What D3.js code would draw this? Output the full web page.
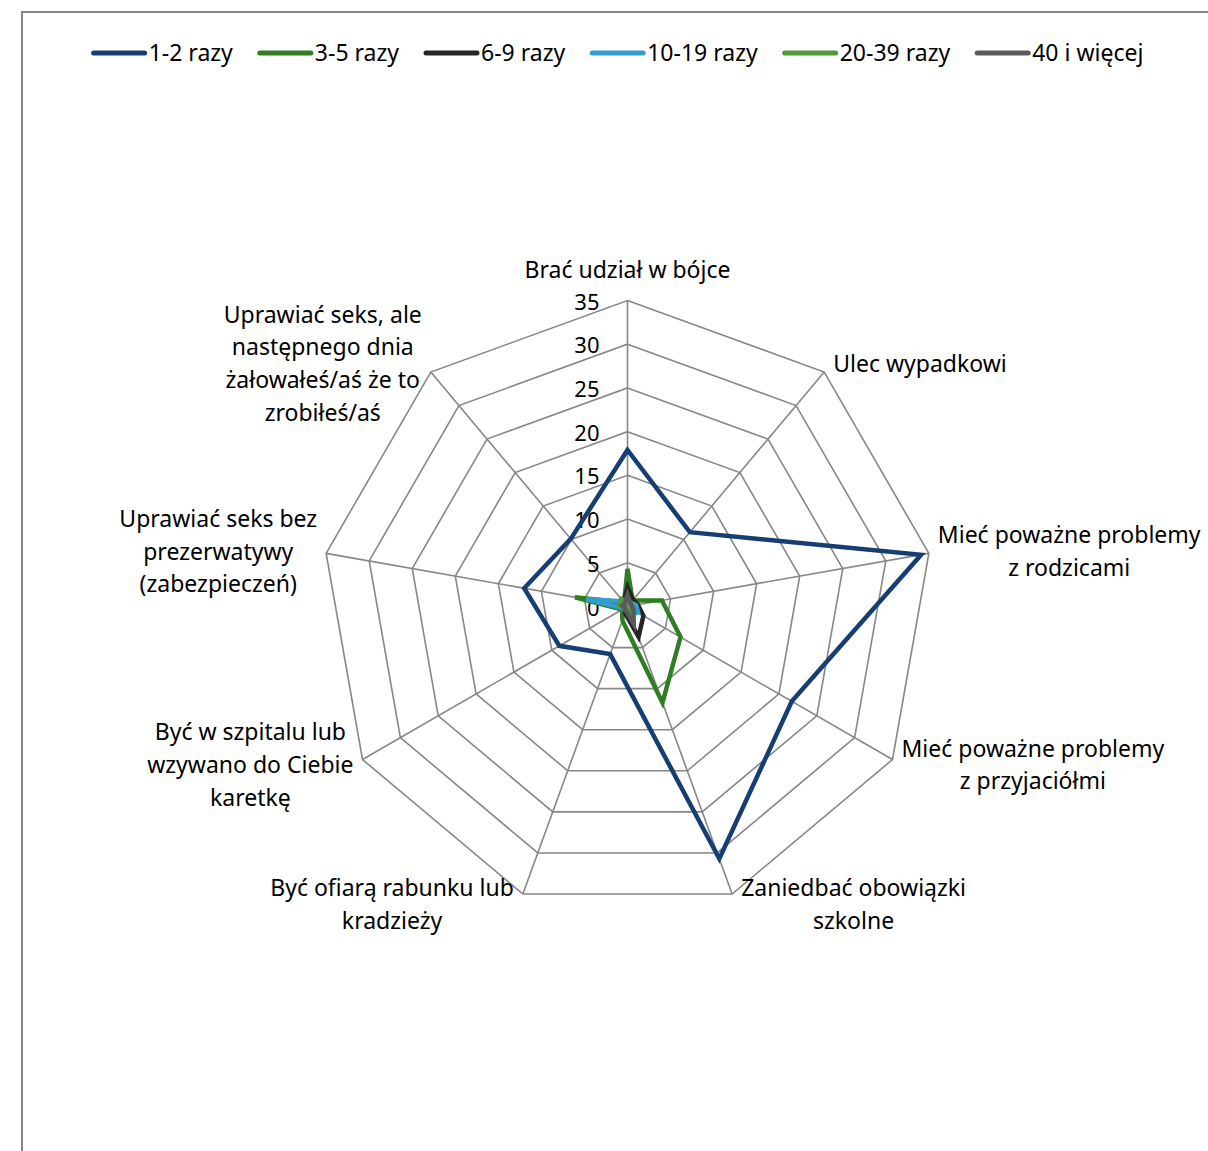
<!DOCTYPE html>
<html>
<head>
<meta charset="utf-8">
<script src="https://cdn.jsdelivr.net/npm/d3@7"></script>
<style>
  html, body { margin: 0; padding: 0; background: #fff; }
  svg { display: block; }
  text { font-family: "Noto Sans", "Open Sans", sans-serif; fill: #000; }
</style>
</head>
<body>
<svg id="chart" width="1208" height="1151"></svg>
<script>
// ---- data ----
const categories = [
  ["Brać udział w bójce"],
  ["Ulec wypadkowi"],
  ["Mieć poważne problemy", "z rodzicami"],
  ["Mieć poważne problemy", "z przyjaciółmi"],
  ["Zaniedbać obowiązki", "szkolne"],
  ["Być ofiarą rabunku lub", "kradzieży"],
  ["Być w szpitalu lub", "wzywano do Ciebie", "karetkę"],
  ["Uprawiać seks bez", "prezerwatywy", "(zabezpieczeń)"],
  ["Uprawiać seks, ale", "następnego dnia", "żałowałeś/aś że to", "zrobiłeś/aś"]
];
const seriesNames = ["1-2 razy", "3-5 razy", "6-9 razy", "10-19 razy", "20-39 razy", "40 i więcej"];
const s12   = [17.9, 11.1, 34.1, 21.7, 30.7, 5.8, 9.0, 12.0, 10.1];
const s35   = [4.3, 0.9, 4.0, 7.0, 11.7, 1.7, 0.7, 6.1, 0.6];
const s69   = [2.2, 1.0, 1.2, 2.1, 3.7, 0.8, 0.3, 0.5, 0.7];
const s1019 = [0.8, 0.6, 1.0, 1.4, 0.9, 0.5, 0.5, 4.8, 0.8];
const s2039 = [0.5, 0.5, 0.5, 0.6, 0.6, 0.3, 0.4, 1.0, 1.1];
const s40   = [1.3, 0.5, 0.5, 0.8, 2.1, 0.5, 0.4, 0.6, 0.5];
const seriesValues = [s12, s35, s69, s1019, s2039, s40];
const tickValues = [0, 5, 10, 15, 20, 25, 30, 35];
const colors = ["#173E72", "#2F7E24", "#262626", "#339DCB", "#4F9A36", "#5A5A5A"];

// ---- layout ----
const svg = d3.select("#chart");
const W = 1208, H = 1151;
const cx = 627.5, cy = 606.5, R = 306;
const gridColor = "#878787";
const fontSize = 23;

svg.append("rect").attr("x", 22).attr("y", 12).attr("width", W).attr("height", H)
  .attr("fill", "none").attr("stroke", gridColor).attr("stroke-width", 2);

const r = d3.scaleLinear().domain([0, 35]).range([0, R]);
const angle = d3.scaleLinear().domain([0, categories.length]).range([0, 2 * Math.PI]);
const pt = (i, v) => [cx + r(v) * Math.sin(angle(i)), cy - r(v) * Math.cos(angle(i))];

const g = svg.append("g");
// rings
tickValues.filter(t => t > 0).forEach(t => {
  g.append("polygon")
    .attr("points", categories.map((c, i) => pt(i, t).join(",")).join(" "))
    .attr("fill", "none").attr("stroke", gridColor).attr("stroke-width", 1.6);
});
// spokes
categories.forEach((c, i) => {
  const [x, y] = pt(i, 35);
  g.append("line").attr("x1", cx).attr("y1", cy).attr("x2", x).attr("y2", y)
    .attr("stroke", gridColor).attr("stroke-width", 1.6);
});
// tick labels
tickValues.forEach(t => {
  g.append("text").attr("x", cx - 28).attr("y", cy - r(t))
    .attr("text-anchor", "end").attr("dominant-baseline", "central")
    .style("font-size", "22px").text(t);
});

// series
const line = d3.lineRadial().angle((d, i) => angle(i)).radius(d => r(d)).curve(d3.curveLinearClosed);
seriesValues.forEach((vals, k) => {
  g.append("path").attr("d", line(vals)).attr("transform", `translate(${cx},${cy})`)
    .attr("fill", "none").attr("stroke", colors[k]).attr("stroke-width", 4.5)
    .attr("stroke-linejoin", "miter").attr("stroke-miterlimit", 6);
});

// category labels
const lineH = 32.7;
categories.forEach((lines, i) => {
  const a = angle(i);
  const [vx, vy] = pt(i, 35);
  const t = g.append("text").style("font-size", fontSize + "px").attr("text-anchor", "middle");
  const spans = lines.map((s, j) => t.append("tspan").text(s));
  const widths = spans.map(s => s.node().getComputedTextLength());
  const bw = d3.max(widths);
  let centerX, centerY;
  const s = Math.sin(a);
  if (Math.abs(s) < 0.01) {
    centerX = vx;
    centerY = vy - 14 - lines.length * lineH / 2;
  } else if (s > 0) {
    centerX = vx + 9 + bw / 2;
    centerY = vy - 11 * Math.cos(a);
  } else {
    centerX = vx - 9 - bw / 2;
    centerY = vy - 11 * Math.cos(a);
  }
  const top = centerY - (lines.length - 1) * lineH / 2;
  spans.forEach((sp, j) => sp.attr("x", centerX).attr("y", top + j * lineH).attr("dy", "0.35em"));
});

// legend
const leg = svg.append("g");
const legY = 53, sampleW = 55, gapT = 2, gapItem = 25;
let xPos = 0;
seriesNames.forEach((name, k) => {
  const it = leg.append("g");
  it.append("line").attr("x1", 2).attr("x2", sampleW - 2).attr("y1", 0).attr("y2", 0)
    .attr("stroke", colors[k]).attr("stroke-width", 5).attr("stroke-linecap", "round");
  const tx = it.append("text").attr("x", sampleW + gapT).attr("y", 0).attr("dy", "0.35em")
    .style("font-size", fontSize + "px").text(name);
  const w = sampleW + gapT + tx.node().getComputedTextLength();
  it.attr("transform", `translate(${xPos},${legY})`);
  xPos += w + gapItem;
});
const totalW = xPos - gapItem;
const legStart = 617.5 - totalW / 2;
leg.attr("transform", `translate(${legStart},0)`);
</script>
</body>
</html>
